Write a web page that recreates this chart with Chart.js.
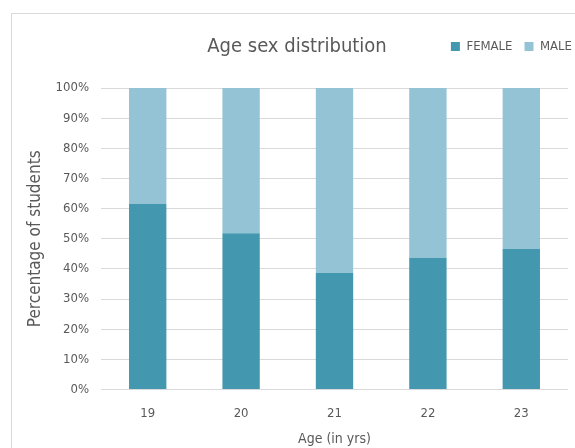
<!DOCTYPE html>
<html>
<head>
<meta charset="utf-8">
<script src="https://cdn.jsdelivr.net/npm/chart.js@4"></script>
<style>
  html, body { margin: 0; padding: 0; background: #fff; }
  #wrap { position: relative; width: 575px; height: 448px; overflow: hidden; }
  #frame { position: absolute; left: 11px; top: 13px; width: 620px; height: 480px; border: 1px solid #d9d9d9; box-sizing: border-box; }
  canvas { position: absolute; left: 0; top: 0; }
</style>
</head>
<body>
<div id="wrap">
  <div id="frame"></div>
  <canvas id="c" width="575" height="448"></canvas>
</div>
<script>
const ages = ["19", "20", "21", "22", "23"];
const female = [61.6, 51.8, 38.7, 43.7, 46.6];
const male = [38.4, 48.2, 61.3, 56.3, 53.4];
const seriesNames = ["FEMALE", "MALE"];
const chartTitle = "Age sex distribution";
const yTitle = "Percentage of students";
const xTitle = "Age (in yrs)";

const FONT = "'Liberation Sans Narrow', 'DejaVu Sans Condensed', 'Liberation Sans', sans-serif";
const TXT = "#595959";

const titlePlugin = {
  id: 'customTitle',
  beforeLayout(chart) {
    const lg = chart.legend;
    if (lg && !lg._extraWrapped) {
      const f = lg.fit.bind(lg);
      lg.fit = function () { f(); this.height += 25; };
      lg._extraWrapped = true;
    }
  },
  afterLayout(chart) {
    const lg = chart.legend;
    if (lg) { lg.left += 16; lg.right += 16; }
  },
  afterDraw(chart) {
    const ctx = chart.ctx;
    ctx.save();
    ctx.font = "20px " + FONT;
    ctx.fillStyle = TXT;
    ctx.textAlign = "center";
    ctx.textBaseline = "middle";
    ctx.fillText(chartTitle, 297, 47);
    ctx.restore();
  }
};

new Chart(document.getElementById('c'), {
  type: 'bar',
  data: {
    labels: ages,
    datasets: [
      { label: seriesNames[0], data: female, backgroundColor: '#4398b0', borderWidth: 0 },
      { label: seriesNames[1], data: male, backgroundColor: '#93c3d5', borderWidth: 0 }
    ]
  },
  options: {
    responsive: false,
    animation: false,
    layout: { padding: { left: 20, right: 7, top: 28, bottom: 0 } },
    datasets: { bar: { barPercentage: 0.4, categoryPercentage: 1.0 } },
    plugins: {
      title: { display: false },
      tooltip: { enabled: false },
      legend: {
        position: 'top',
        align: 'end',
        labels: {
          boxWidth: 9, boxHeight: 9, padding: 12,
          color: TXT,
          font: { family: FONT, size: 13 }
        }
      }
    },
    scales: {
      x: {
        stacked: true,
        grid: { display: false },
        border: { display: false },
        ticks: { color: TXT, font: { family: FONT, size: 13 }, padding: 8 },
        title: { display: true, text: xTitle, color: TXT, font: { family: FONT, size: 14 }, padding: { top: 2, bottom: 0 } }
      },
      y: {
        stacked: true,
        min: 0, max: 100,
        afterFit(scale) { scale.width = 81; },
        grid: { color: '#d9d9d9', drawTicks: false },
        border: { display: false },
        ticks: { stepSize: 10, color: TXT, font: { family: FONT, size: 13 }, padding: 12,
                 callback: v => v + '%' },
        title: { display: true, text: yTitle, color: TXT, font: { family: FONT, size: 17 }, padding: { top: 5, bottom: 0 } }
      }
    }
  },
  plugins: [titlePlugin]
});
</script>
</body>
</html>
